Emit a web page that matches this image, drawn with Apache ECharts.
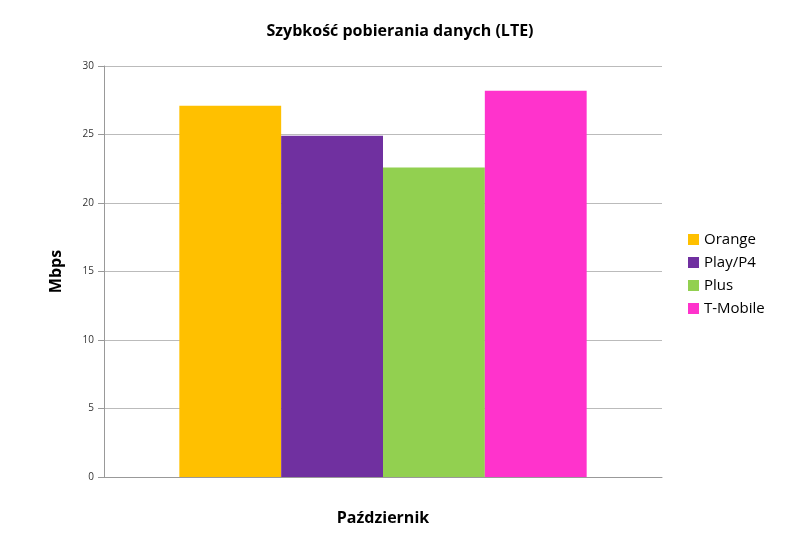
<!DOCTYPE html>
<html lang="pl">
<head>
<meta charset="UTF-8">
<title>LTE</title>
<script src="https://cdn.jsdelivr.net/npm/echarts@6/dist/echarts.min.js"></script>
</head>
<body style="margin:0">
<div id="main" style="width:800px;height:547px;"></div>
<script>
var categories = ['Październik'];
var operators = ['Orange', 'Play/P4', 'Plus', 'T-Mobile'];
var values = [27.1, 24.9, 22.6, 28.2];
var colors = ['#FFC000', '#7030A0', '#92D050', '#FF33CC'];
var yTicks = [0, 5, 10, 15, 20, 25, 30];

var chart = echarts.init(document.getElementById('main'));

var series = operators.map(function (name, i) {
    return {
        name: name,
        type: 'bar',
        data: [values[i]],
        barGap: '0%',
        barCategoryGap: '27%',
        itemStyle: { color: colors[i] }
    };
});

chart.setOption({
    animation: false,
    textStyle: { fontFamily: 'Open Sans' },
    title: {
        text: 'Szybkość pobierania danych (LTE)',
        left: 'center', top: 18,
        textStyle: { fontSize: 16, fontWeight: 'bold', color: '#000' }
    },
    legend: {
        orient: 'vertical', left: 683, top: 227,
        itemWidth: 11, itemHeight: 11, itemGap: 8, icon: 'rect',
        textStyle: { fontSize: 15, color: '#000' }
    },
    grid: { left: 104, right: 138, top: 66, bottom: 70 },
    xAxis: {
        type: 'category', data: categories,
        name: 'Październik', nameLocation: 'middle', nameGap: 33,
        nameTextStyle: { fontSize: 16, fontWeight: 'bold', color: '#000' },
        axisLabel: { show: false }, axisTick: { show: false },
        axisLine: { lineStyle: { color: '#999' } }
    },
    yAxis: {
        type: 'value', min: yTicks[0], max: yTicks[yTicks.length - 1], interval: 5,
        name: 'Mbps', nameLocation: 'middle', nameGap: 40,
        nameTextStyle: { fontSize: 16, fontWeight: 'bold', color: '#000' },
        axisLabel: { fontSize: 10, color: '#333', margin: 10 },
        axisTick: { show: true, length: 6, inside: false, lineStyle: { color: '#999' } },
        axisLine: { show: true, lineStyle: { color: '#999' } },
        splitLine: { lineStyle: { color: '#bbb' } }
    },
    series: series
});
</script>
</body>
</html>
